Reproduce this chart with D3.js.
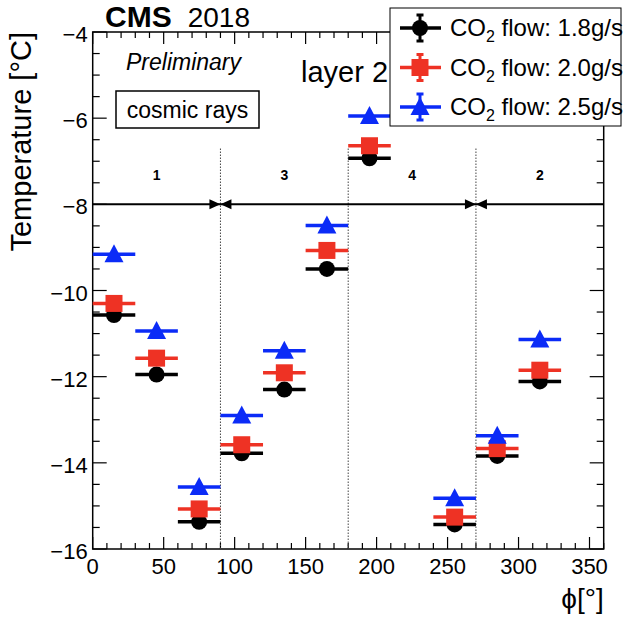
<!DOCTYPE html>
<html>
<head>
<meta charset="utf-8">
<script src="https://cdn.jsdelivr.net/npm/d3@7"></script>
<style>
  body { margin: 0; background: #fff; }
  text { font-family: "Liberation Sans", Arial, Helvetica, sans-serif; fill: #000; }
</style>
</head>
<body>
<svg id="chart" width="627" height="617"></svg>
<script>
// bin centres in phi (deg), bins are 30 deg wide
var phi = [ 15, 45, 75, 105, 135, 165, 195, 255, 285, 315 ];
var binHalfWidth = 15;

// temperature per CO2 flow
var temp18 = [ -10.57, -11.95, -15.37, -13.78, -12.30, -9.50, -6.93, -15.43, -13.84, -12.11 ];
var temp20 = [ -10.30, -11.57, -15.07, -13.58, -11.91, -9.07, -6.64, -15.26, -13.67, -11.85 ];
var temp25 = [ -9.16, -10.94, -14.56, -12.90, -11.40, -8.49, -5.95, -14.82, -13.37, -11.14 ];

var seriesNames = [ "1.8g/s", "2.0g/s", "2.5g/s" ];
var seriesColors = [ "#000000", "#ee3224", "#0b2bf7" ];
var seriesShapes = [ "circle", "square", "triangle" ];

// sector boundaries and labels
var sectorEdges = [ 90, 180, 270 ];
var sectorLabelPhi = [ 45, 135, 225, 315 ];
var sectorLabels = [ "1", "3", "4", "2" ];
var arrowTips = [ 90, 270 ];
var arrowLevel = -8;
var dividerTop = -6.7;

var xTicks = [ 0, 50, 100, 150, 200, 250, 300, 350 ];
var yTicks = [ -16, -14, -12, -10, -8, -6, -4 ];

var svg = d3.select( "#chart" );

var x = d3.scaleLinear().domain( [ 0, 360 ] ).range( [ 92.7, 603.7 ] );
var y = d3.scaleLinear().domain( [ -16, -4 ] ).range( [ 549, 32 ] );

function minus( v ) {
    return String( v ).replace( "-", "\u2212" );
}

// ---- frame and ticks ----
var frame = svg.append( "g" );
frame.append( "rect" )
    .attr( "x", x( 0 ) ).attr( "y", y( -4 ) )
    .attr( "width", x( 360 ) - x( 0 ) ).attr( "height", y( -16 ) - y( -4 ) )
    .attr( "fill", "none" ).attr( "stroke", "#000" ).attr( "stroke-width", 1.5 );

var xMinor = d3.range( 0, 361, 10 );
xMinor.forEach( function ( v ) {
    var len = v % 50 === 0 ? 12 : 6;
    frame.append( "line" ).attr( "x1", x( v ) ).attr( "x2", x( v ) )
        .attr( "y1", y( -16 ) ).attr( "y2", y( -16 ) - len )
        .attr( "stroke", "#000" ).attr( "stroke-width", 1.2 );
    frame.append( "line" ).attr( "x1", x( v ) ).attr( "x2", x( v ) )
        .attr( "y1", y( -4 ) ).attr( "y2", y( -4 ) + len )
        .attr( "stroke", "#000" ).attr( "stroke-width", 1.2 );
} );

var yMinor = d3.range( -16, -3.99, 0.5 );
yMinor.forEach( function ( v ) {
    var len = Math.abs( v % 2 ) < 1e-6 ? 14 : 7;
    frame.append( "line" ).attr( "y1", y( v ) ).attr( "y2", y( v ) )
        .attr( "x1", x( 0 ) ).attr( "x2", x( 0 ) + len )
        .attr( "stroke", "#000" ).attr( "stroke-width", 1.2 );
    frame.append( "line" ).attr( "y1", y( v ) ).attr( "y2", y( v ) )
        .attr( "x1", x( 360 ) ).attr( "x2", x( 360 ) - len )
        .attr( "stroke", "#000" ).attr( "stroke-width", 1.2 );
} );

// tick labels
svg.append( "g" ).selectAll( "text" )
    .data( xTicks ).enter().append( "text" )
    .attr( "x", d => x( d ) ).attr( "y", y( -16 ) + 25 )
    .attr( "text-anchor", "middle" ).attr( "font-size", 22 )
    .text( d => d );

svg.append( "g" ).selectAll( "text" )
    .data( yTicks ).enter().append( "text" )
    .attr( "x", x( 0 ) - 5 ).attr( "y", d => y( d ) + 10 )
    .attr( "text-anchor", "end" ).attr( "font-size", 22 )
    .text( d => minus( d ) );

// axis titles
svg.append( "text" )
    .attr( "transform", "translate(31," + y( -4 ) + ") rotate(-90)" )
    .attr( "text-anchor", "end" ).attr( "font-size", 29 )
    .text( "Temperature [\u00b0C]" );

svg.append( "text" )
    .attr( "x", x( 360 ) ).attr( "y", 608 )
    .attr( "text-anchor", "end" ).attr( "font-size", 28 )
    .text( "\u03d5[\u00b0]" );

// ---- sector dividers and arrows ----
var deco = svg.append( "g" );
sectorEdges.forEach( function ( v ) {
    deco.append( "line" )
        .attr( "x1", x( v ) ).attr( "x2", x( v ) )
        .attr( "y1", y( -16 ) ).attr( "y2", y( dividerTop ) )
        .attr( "stroke", "#444" ).attr( "stroke-width", 1 )
        .attr( "stroke-dasharray", "1.5,1.5" );
} );

deco.append( "line" )
    .attr( "x1", x( 0 ) ).attr( "x2", x( 360 ) )
    .attr( "y1", y( arrowLevel ) ).attr( "y2", y( arrowLevel ) )
    .attr( "stroke", "#000" ).attr( "stroke-width", 2 );

arrowTips.forEach( function ( v ) {
    var tx = x( v ), ty = y( arrowLevel );
    deco.append( "path" )
        .attr( "d", "M" + tx + "," + ty + "L" + ( tx - 11 ) + "," + ( ty - 5 ) + "L" + ( tx - 11 ) + "," + ( ty + 5 ) + "Z" )
        .attr( "fill", "#000" );
    deco.append( "path" )
        .attr( "d", "M" + tx + "," + ty + "L" + ( tx + 11 ) + "," + ( ty - 5 ) + "L" + ( tx + 11 ) + "," + ( ty + 5 ) + "Z" )
        .attr( "fill", "#000" );
} );

deco.selectAll( "text.sector" )
    .data( sectorLabels ).enter().append( "text" )
    .attr( "class", "sector" )
    .attr( "x", ( d, i ) => x( sectorLabelPhi[ i ] ) ).attr( "y", 180 )
    .attr( "text-anchor", "middle" ).attr( "font-size", 14 ).attr( "font-weight", "bold" )
    .text( d => d );

// ---- markers ----
function drawMarker( g, shape, cx, cy, color ) {
    if ( shape === "circle" ) {
        g.append( "circle" ).attr( "cx", cx ).attr( "cy", cy ).attr( "r", 8 ).attr( "fill", color );
    } else if ( shape === "square" ) {
        g.append( "rect" ).attr( "x", cx - 8.5 ).attr( "y", cy - 8.5 )
            .attr( "width", 17 ).attr( "height", 17 ).attr( "fill", color );
    } else {
        g.append( "path" )
            .attr( "d", "M" + cx + "," + ( cy - 10 ) + "L" + ( cx + 9.5 ) + "," + ( cy + 8 ) + "L" + ( cx - 9.5 ) + "," + ( cy + 8 ) + "Z" )
            .attr( "fill", color );
    }
}

var allSeries = [ temp18, temp20, temp25 ];
allSeries.forEach( function ( vals, s ) {
    var g = svg.append( "g" );
    vals.forEach( function ( v, i ) {
        g.append( "line" )
            .attr( "x1", x( phi[ i ] - binHalfWidth ) ).attr( "x2", x( phi[ i ] + binHalfWidth ) )
            .attr( "y1", y( v ) ).attr( "y2", y( v ) )
            .attr( "stroke", seriesColors[ s ] ).attr( "stroke-width", 3.5 );
        drawMarker( g, seriesShapes[ s ], x( phi[ i ] ), y( v ), seriesColors[ s ] );
    } );
} );

// ---- text labels ----
var head = svg.append( "text" ).attr( "x", 105 ).attr( "y", 27 ).attr( "font-size", 30 );
head.append( "tspan" ).attr( "font-weight", "bold" ).text( "CMS" );
head.append( "tspan" ).attr( "dx", 16 ).attr( "font-size", 28 ).text( "2018" );

svg.append( "text" )
    .attr( "x", 126 ).attr( "y", 70 ).attr( "font-size", 23 ).attr( "font-style", "italic" )
    .text( "Preliminary" );

svg.append( "rect" )
    .attr( "x", 116 ).attr( "y", 91 ).attr( "width", 143 ).attr( "height", 37 )
    .attr( "fill", "#fff" ).attr( "stroke", "#000" ).attr( "stroke-width", 1.5 );
svg.append( "text" )
    .attr( "x", 187.5 ).attr( "y", 118 ).attr( "font-size", 23 ).attr( "text-anchor", "middle" )
    .text( "cosmic rays" );

svg.append( "text" )
    .attr( "x", 301 ).attr( "y", 82 ).attr( "font-size", 29 )
    .text( "layer 2" );

// ---- legend ----
var legend = svg.append( "g" );
legend.append( "rect" )
    .attr( "x", 390 ).attr( "y", 8 ).attr( "width", 231 ).attr( "height", 118 )
    .attr( "fill", "#fff" ).attr( "stroke", "#000" ).attr( "stroke-width", 1 );

seriesNames.forEach( function ( name, s ) {
    var ly = 28 + s * 39.5;
    var lx = 420;
    var col = seriesColors[ s ];
    legend.append( "line" ).attr( "x1", 400 ).attr( "x2", 441 ).attr( "y1", ly ).attr( "y2", ly )
        .attr( "stroke", col ).attr( "stroke-width", 3.5 );
    legend.append( "line" ).attr( "x1", lx ).attr( "x2", lx ).attr( "y1", ly - 13 ).attr( "y2", ly + 13 )
        .attr( "stroke", col ).attr( "stroke-width", 3 );
    legend.append( "line" ).attr( "x1", lx - 3.5 ).attr( "x2", lx + 3.5 ).attr( "y1", ly - 13 ).attr( "y2", ly - 13 )
        .attr( "stroke", col ).attr( "stroke-width", 3 );
    legend.append( "line" ).attr( "x1", lx - 3.5 ).attr( "x2", lx + 3.5 ).attr( "y1", ly + 13 ).attr( "y2", ly + 13 )
        .attr( "stroke", col ).attr( "stroke-width", 3 );
    drawMarker( legend, seriesShapes[ s ], lx, ly, col );

    var t = legend.append( "text" ).attr( "x", 450 ).attr( "y", ly + 8 ).attr( "font-size", 24 );
    t.append( "tspan" ).text( "CO" );
    t.append( "tspan" ).attr( "dy", 6 ).attr( "font-size", 16 ).text( "2" );
    t.append( "tspan" ).attr( "dy", -6 ).text( " flow: " + name );
} );
</script>
</body>
</html>
